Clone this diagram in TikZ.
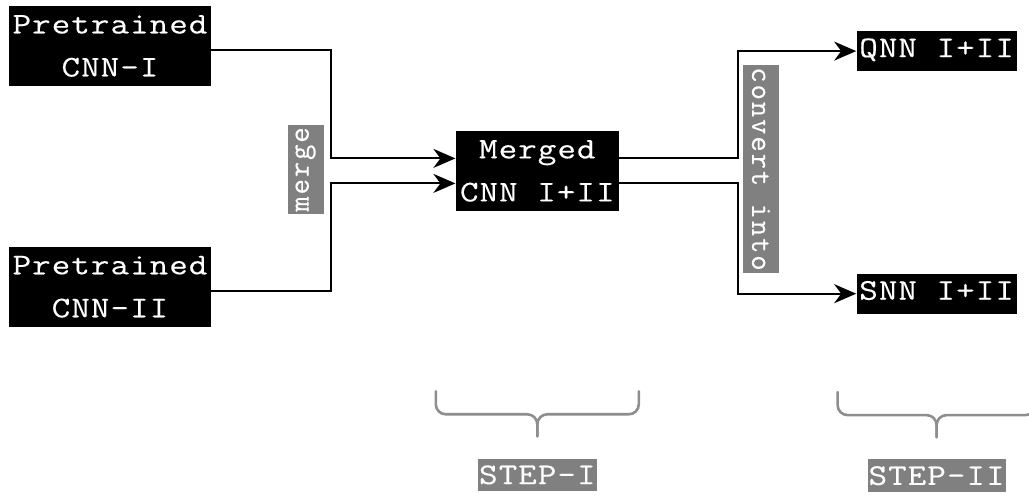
\documentclass[tikz,border=0pt]{standalone}
\usepackage{fontspec}
\usepackage{tikz}
\usetikzlibrary{arrows.meta, positioning, calc}
\newfontfamily\boxfont[FakeStretch=1.2, LetterSpace=3.5, FakeBold=0.35]{Latin Modern Mono}
\newfontfamily\tagfont[LetterSpace=6, FakeBold=0.3]{Latin Modern Mono}
\definecolor{tagfill}{HTML}{808080}
\definecolor{bracegray}{HTML}{8E8E8E}

\begin{document}
\begin{tikzpicture}[
  x=0.5pt, y=-0.5pt,
  netbox/.style={fill=black, text=white, align=center, inner xsep=0.5pt,
    font=\boxfont\fontsize{15pt}{21.5pt}\selectfont, minimum height=40pt},
  outbox/.style={fill=black, text=white, inner xsep=0.5pt, inner ysep=3pt,
    text height=10pt, text depth=4pt, minimum width=80pt,
    font=\boxfont\fontsize{15pt}{15pt}\selectfont},
  steplabel/.style={fill=tagfill, text=white, inner xsep=0.5pt, minimum height=14pt,
    font=\boxfont\fontsize{15pt}{15pt}\selectfont},
  tag/.style={fill=tagfill, text=white, inner xsep=1pt, minimum height=18pt,
    font=\tagfont\fontsize{15pt}{16pt}\selectfont},
  arrow/.style={-{Stealth[length=11pt, width=9.5pt, inset=3.5pt]}, line width=1pt},
  sketch/.style={draw=bracegray, line width=1.3pt, rounded corners=5pt, line cap=round}
]
\useasboundingbox (0,0) rectangle (1029,497);

  % Inputs
  \node[netbox, minimum width=101pt] (cnn1) at (110,46) {Pretrained\\CNN-I};
  \node[netbox, minimum width=101pt, below=80pt of cnn1] (cnn2) {Pretrained\\CNN-II};

  % Merged network
  \coordinate (inmid) at ($(cnn1.east)!0.5!(cnn2.east)$);
  \node[netbox, minimum width=81.5pt, right=122pt of inmid, yshift=-2.25pt] (merged) {Merged\\CNN I+II};

  % Outputs
  \node[outbox, above right=29.5pt and 118.5pt of merged] (qnn) {QNN I+II};
  \node[outbox, below right=31pt and 118.5pt of merged] (snn) {SNN I+II};

  % Labels
  \node[tag, rotate=90] (mergetag) at (305.5,169.5) {merge};
  \node[tag, rotate=-90] (converttag) at (761,169) {convert into};

  % Steps
  \node[steplabel, below=123.5pt of merged] (step1) {STEP-I};
  \node[steplabel, below=72.5pt of snn] (step2) {STEP-II};

  % Arrows
  \draw[arrow] ([yshift=-2pt]cnn1.east) -- ++(60pt,0) |- ([yshift=6.25pt]merged.west);
  \draw[arrow] ([yshift=-2pt]cnn2.east) -- ++(60pt,0) |- ([yshift=-6.25pt]merged.west);
  \draw[arrow] ([yshift=6.25pt]merged.east) -- ++(59.5pt,0) |- (qnn.west);
  \draw[arrow] ([yshift=-6.25pt]merged.east) -- ++(59.5pt,0) |- (snn.west);

  % Braces
  \foreach \lbl/\hw in {step1/101.5, step2/99} {
    \draw[sketch] ($(\lbl.north)+(-\hw,-67)$) -- ++(0,23) -- ($(\lbl.north)+(0,-44)$) -- ++(0,22);
    \draw[sketch] ($(\lbl.north)+(\hw,-67)$) -- ++(0,23) -- ($(\lbl.north)+(0,-44)$) -- ++(0,22);
  }

\end{tikzpicture}
\end{document}
